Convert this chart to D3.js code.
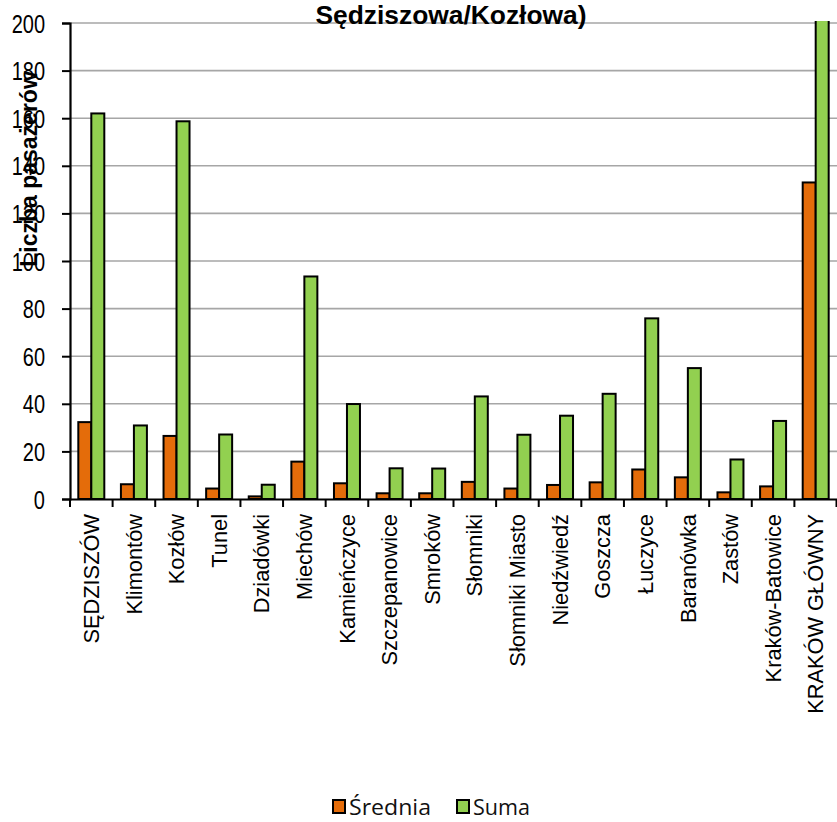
<!DOCTYPE html>
<html>
<head>
<meta charset="utf-8">
<script src="https://cdn.jsdelivr.net/npm/d3@7"></script>
<style>
  body { margin: 0; background: #fff; }
  svg { display: block; font-family: "Liberation Sans", Arial, sans-serif; }
</style>
</head>
<body>
<div id="chart"></div>
<script>
// stacje (kierunek Kraków)
const stations = ['SĘDZISZÓW', 'Klimontów', 'Kozłów', 'Tunel', 'Dziadówki', 'Miechów',
  'Kamieńczyce', 'Szczepanowice', 'Smroków', 'Słomniki', 'Słomniki Miasto', 'Niedźwiedź',
  'Goszcza', 'Łuczyce', 'Baranówka', 'Zastów', 'Kraków-Batowice', 'KRAKÓW GŁÓWNY'];
const srednia = [32.3, 6.2, 26.5, 4.4, 1.1, 15.7, 6.6, 2.4, 2.4, 7.2, 4.4, 5.9, 7.0, 12.4, 9.1, 2.8, 5.3, 133];
const suma = [162, 30.9, 158.7, 27.1, 6.0, 93.5, 39.9, 12.9, 12.8, 43.1, 27.0, 35.0, 44.2, 75.9, 55.0, 16.6, 32.8, 798];
const seriesNames = ['Średnia', 'Suma'];
const seriesColors = ['#e46c0a', '#92d050'];
const yTicks = [0, 20, 40, 60, 80, 100, 120, 140, 160, 180, 200];
const titleText = 'Sędziszowa/Kozłowa)';
const yLabel = 'Liczba pasażerów';

const width = 837, height = 822;
const margin = { top: 23, right: 0, bottom: 323, left: 70 };

const data = stations.map((s, i) => ({ name: s, values: [srednia[i], suma[i]] }));

const svg = d3.select('#chart').append('svg')
  .attr('width', width)
  .attr('height', height);

const x = d3.scaleBand()
  .domain(stations)
  .range([margin.left, width - margin.right])
  .padding(0);

const xs = d3.scaleBand()
  .domain(seriesNames)
  .range([x.bandwidth() * 0.195, x.bandwidth() * 0.805])
  .padding(0);

const y = d3.scaleLinear()
  .domain([0, 200])
  .range([height - margin.bottom, margin.top]);

// linie siatki
svg.append('g')
  .selectAll('line')
  .data(yTicks.filter(d => d > 0))
  .join('line')
  .attr('x1', margin.left)
  .attr('x2', width - margin.right)
  .attr('y1', d => y(d))
  .attr('y2', d => y(d))
  .attr('stroke', '#a6a6a6')
  .attr('stroke-width', 1.6);

svg.append('defs').append('clipPath')
  .attr('id', 'plot')
  .append('rect')
  .attr('x', margin.left)
  .attr('y', margin.top - 2)
  .attr('width', width - margin.left)
  .attr('height', y(0) - margin.top + 2);

// słupki
svg.append('g')
  .attr('clip-path', 'url(#plot)')
  .selectAll('g')
  .data(data)
  .join('g')
  .attr('transform', d => `translate(${x(d.name)},0)`)
  .selectAll('rect')
  .data(d => d.values.map((v, i) => ({ key: seriesNames[i], value: v, i })))
  .join('rect')
  .attr('x', d => xs(d.key))
  .attr('y', d => y(d.value))
  .attr('width', xs.bandwidth())
  .attr('height', d => y(0) - y(d.value))
  .attr('fill', d => seriesColors[d.i])
  .attr('stroke', '#000')
  .attr('stroke-width', 2);

// oś Y
const yAxis = svg.append('g')
  .attr('transform', `translate(${margin.left},0)`)
  .call(d3.axisLeft(y).tickValues(yTicks).tickSize(8).tickFormat(d3.format('d')));
yAxis.select('.domain').attr('stroke', '#000').attr('stroke-width', 2.2);
yAxis.selectAll('.tick line').attr('stroke', '#000').attr('stroke-width', 2);
yAxis.selectAll('.tick text')
  .attr('x', null)
  .attr('dy', '0.36em')
  .attr('transform', 'translate(-25,0) scale(0.8,1)')
  .attr('font-size', 25)
  .attr('fill', '#000')
  .attr('font-family', '"Liberation Sans", Arial, sans-serif');

// oś X
const xAxis = svg.append('g')
  .attr('transform', `translate(0,${y(0)})`)
  .call(d3.axisBottom(x).tickSize(0));
xAxis.select('.domain').attr('stroke', '#000').attr('stroke-width', 2.2);
xAxis.selectAll('.tick text')
  .attr('y', 0)
  .attr('dy', '0.35em')
  .attr('text-anchor', 'end')
  .attr('transform', 'translate(0,15) rotate(-90)')
  .attr('font-size', 21.8)
  .attr('fill', '#000')
  .attr('font-family', '"Liberation Sans", Arial, sans-serif');

xAxis.append('g')
  .selectAll('line')
  .data(stations.map(s => x(s)).concat([x.range()[1] - 0.5]))
  .join('line')
  .attr('x1', d => d)
  .attr('x2', d => d)
  .attr('y1', 0)
  .attr('y2', 8)
  .attr('stroke', '#000')
  .attr('stroke-width', 2);

// tytuł
svg.append('text')
  .attr('x', 451)
  .attr('y', 23.5)
  .attr('text-anchor', 'middle')
  .attr('font-weight', 'bold')
  .attr('font-size', 25)
  .attr('textLength', 271)
  .attr('lengthAdjust', 'spacingAndGlyphs')
  .text(titleText);

// opis osi Y
svg.append('text')
  .attr('transform', 'translate(37,169) rotate(-90)')
  .attr('text-anchor', 'middle')
  .attr('font-weight', 'bold')
  .attr('font-size', 23)
  .text(yLabel);

// legenda
const legend = svg.append('g')
  .attr('font-family', '"Open Sans", "Noto Sans", sans-serif')
  .attr('font-size', 21.5);
const legendX = [333, 457];
const legendW = [82, 57];
seriesNames.forEach((n, i) => {
  const g = legend.append('g').attr('transform', `translate(${legendX[i]},800)`);
  g.append('rect')
    .attr('width', 12).attr('height', 13)
    .attr('fill', seriesColors[i])
    .attr('stroke', '#000').attr('stroke-width', 2);
  g.append('text')
    .attr('x', 16).attr('y', 14.5)
    .attr('fill', '#111')
    .attr('textLength', legendW[i])
    .attr('lengthAdjust', 'spacingAndGlyphs')
    .text(n);
});
</script>
</body>
</html>
